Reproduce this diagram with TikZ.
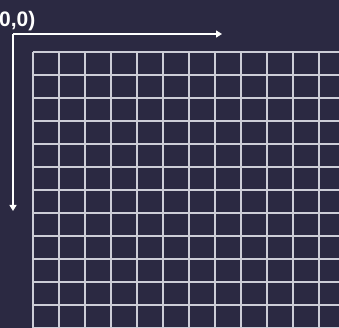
\documentclass[tikz,border=0pt]{standalone}
\usepackage{fontspec}
\setmainfont{Liberation Sans}
\usetikzlibrary{arrows.meta}
\definecolor{bg}{RGB}{43,41,66}
\definecolor{gridc}{RGB}{205,205,215}
\begin{document}
\begin{tikzpicture}[x=1pt,y=-1pt,
  gridline/.style={draw=gridc,line width=1.1pt},
  axis/.style={draw=white,line width=1.4pt,-{Triangle[length=6pt,width=7pt]}},
  lbl/.style={text=white,font=\bfseries\fontsize{21}{24}\selectfont,inner sep=0pt}]
\fill[bg] (0,0) rectangle (339,328);
\useasboundingbox (0,0) rectangle (339,328);
\begin{scope}
\clip (0,0) rectangle (339,328);
\foreach \k in {0,...,12} {
  \draw[gridline] (33,52+23*\k) -- (345,52+23*\k);
}
\foreach \k in {0,...,12} {
  \draw[gridline] (33+26*\k,52) -- (33+26*\k,340);
}
\node[lbl,anchor=base east] (origin) at (35.5,26.5) {(0,0)};
\end{scope}
\coordinate (o) at (13,34);
\coordinate (xend) at (222,34);
\coordinate (yend) at (13,211);
\draw[axis] (o) -- (xend);
\draw[axis] (o) -- (yend);
\end{tikzpicture}
\end{document}
